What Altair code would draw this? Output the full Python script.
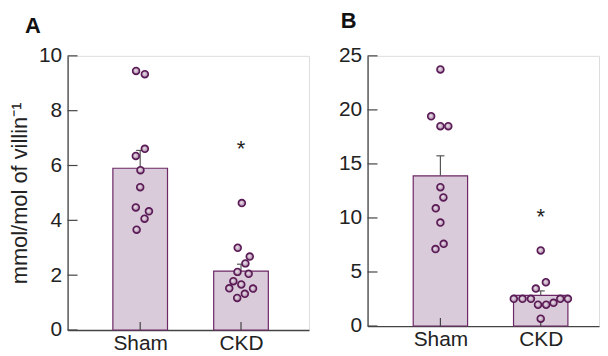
import altair as alt
import pandas as pd

groups = ["Sham", "CKD"]
group_pos = [0, 1]

# Panel A values (mmol/mol of villin^-1)
a_means = [5.9, 2.15]
a_upper = [6.55, 2.4]
a_sham = [9.45, 9.33, 6.61, 6.35, 5.83, 5.21, 4.47, 4.33, 4.06, 3.66]
a_sham_jit = [-0.15, 0.17, 0.17, -0.16, 0.01, 0.0, -0.16, 0.32, 0.16, -0.13]
a_ckd = [4.63, 3.0, 2.68, 2.43, 2.12, 2.05, 1.78, 1.66, 1.52, 1.51, 1.32, 1.17]
a_ckd_jit = [0.03, -0.12, 0.32, 0.16, -0.13, 0.28, -0.28, 0.01, -0.43, 0.44, 0.14, -0.14]
a_star = 6.8

# Panel B values
b_means = [13.9, 2.83]
b_upper = [15.75, 3.25]
b_sham = [23.74, 19.41, 18.49, 18.49, 12.85, 11.9, 10.89, 9.57, 7.61, 7.12]
b_sham_jit = [0.0, -0.34, 0.0, 0.29, 0.0, 0.11, -0.17, 0.0, 0.12, -0.18]
b_ckd = [6.99, 4.05, 3.47, 2.52, 2.52, 2.52, 2.52, 2.52, 1.97, 1.97, 2.15, 0.68]
b_ckd_jit = [0.0, 0.19, -0.18, -0.99, -0.67, -0.36, 0.72, 1.0, -0.1, 0.2, 0.47, 0.0]
b_star = 10.6

HALF_BAR = 0.271  # half bar width in category units
AXIS_COLOR = "#444444"
LABEL_COLOR = "#222222"
FONT = "Liberation Sans"
FS = 21


def panel(title_text, title_dx, title_offset, w, h, xdom, ymax, ystep, means, uppers,
          vals_sham, jit_sham, vals_ckd, jit_ckd, star_y, ytitle):
    summary = pd.DataFrame({"group": groups, "pos": group_pos,
                            "mean": means, "upper": uppers})
    pts = pd.DataFrame({
        "pos": [0] * len(vals_sham) + [1] * len(vals_ckd),
        "value": vals_sham + vals_ckd,
        "jit": jit_sham + jit_ckd,
    })
    tick_df = pd.DataFrame({"t": list(range(0, ymax + 1, ystep))})
    star = pd.DataFrame({"pos": [1], "y": [star_y], "label": ["*"]})
    cats = pd.DataFrame({"pos": group_pos})

    xscale = alt.Scale(domain=xdom, nice=False, zero=False)
    yscale = alt.Scale(domain=[0, ymax], nice=False)

    xaxis = alt.Axis(title=None, values=group_pos,
                     labelExpr="datum.value == 0 ? 'Sham' : 'CKD'",
                     ticks=False, labelPadding=3, labelFontSize=FS,
                     labelColor=LABEL_COLOR, labelFont=FONT, labelFlush=False,
                     labelBaseline="top",
                     domainColor=AXIS_COLOR, domainWidth=1.3, grid=False)
    yaxis_kwargs = dict(values=list(range(0, ymax + 1, ystep)), ticks=False,
                        labelPadding=6, labelFontSize=FS, labelColor=LABEL_COLOR,
                        labelFont=FONT, domainColor=AXIS_COLOR, domainWidth=1.3,
                        grid=False)
    if ytitle:
        yaxis = alt.Axis(title=ytitle, titleFontSize=22, titleFontWeight="normal",
                         titleColor=LABEL_COLOR, titleFont=FONT, titlePadding=7,
                         **yaxis_kwargs)
    else:
        yaxis = alt.Axis(title=None, **yaxis_kwargs)

    bars = alt.Chart(summary).transform_calculate(
        x0=f"datum.pos - {HALF_BAR}", x1=f"datum.pos + {HALF_BAR}"
    ).mark_bar(
        fill="#d9cbd9", stroke="#6e2767", strokeWidth=1.2
    ).encode(
        x=alt.X("x0:Q", scale=xscale, axis=xaxis), x2="x1:Q",
        y=alt.Y("mean:Q", scale=yscale, axis=yaxis), y2=alt.datum(0),
    )

    err = alt.Chart(summary).mark_rule(color="#555555", strokeWidth=1.2).encode(
        x=alt.X("pos:Q"), y=alt.Y("mean:Q"), y2="upper:Q")
    cap = alt.Chart(summary).transform_calculate(
        c0="datum.pos - 0.04", c1="datum.pos + 0.04"
    ).mark_rule(color="#555555", strokeWidth=1.2).encode(
        x=alt.X("c0:Q"), x2="c1:Q", y=alt.Y("upper:Q"))

    xticks = alt.Chart(cats).mark_rule(color=AXIS_COLOR, strokeWidth=1.2).encode(
        x=alt.X("pos:Q"), y=alt.value(h), y2=alt.value(h - 8))
    yticks = alt.Chart(tick_df).mark_rule(color=AXIS_COLOR, strokeWidth=1.2).encode(
        y=alt.Y("t:Q"), x=alt.value(0), x2=alt.value(10))

    dots = alt.Chart(pts).transform_calculate(
        px=f"datum.pos + datum.jit * {HALF_BAR}"
    ).mark_circle(
        size=48, opacity=1,
        fill={"gradient": "radial",
              "stops": [{"offset": 0, "color": "#f4edf3"},
                        {"offset": 1, "color": "#a27c9f"}],
              "x1": 0.4, "y1": 0.4, "r1": 0, "x2": 0.5, "y2": 0.5, "r2": 0.5},
        stroke="#5a1a55", strokeWidth=1.6,
    ).encode(x=alt.X("px:Q"), y=alt.Y("value:Q"))

    stars = alt.Chart(star).mark_text(
        fontSize=22, color=LABEL_COLOR, font=FONT, baseline="middle", dy=6
    ).encode(x=alt.X("pos:Q"), y=alt.Y("y:Q"), text="label:N")

    return alt.layer(bars, xticks, err, cap, yticks, dots, stars).properties(
        width=w, height=h,
        title=alt.TitleParams(text=title_text, anchor="start", frame="group",
                              baseline="top", dx=title_dx, offset=title_offset,
                              fontSize=22, fontWeight="bold", font=FONT,
                              color="#111111"),
    )


pa = panel("A", -43, 7.5, 243, 276, [-0.72, 1.674], 10, 2, a_means, a_upper,
           a_sham, a_sham_jit, a_ckd, a_ckd_jit, a_star, "mmol/mol of villin⁻¹")
pb = panel("B", -27, 11.8, 233, 272, [-0.726, 1.581], 25, 5, b_means, b_upper,
           b_sham, b_sham_jit, b_ckd, b_ckd_jit, b_star, None)

chart = alt.hconcat(pa, pb, spacing=28).properties(
    padding={"left": 0, "top": 0, "right": 0, "bottom": 0}
).configure_view(stroke=None).configure(font=FONT)

chart.save("out.html", embed_options={"renderer": "svg", "actions": False})
